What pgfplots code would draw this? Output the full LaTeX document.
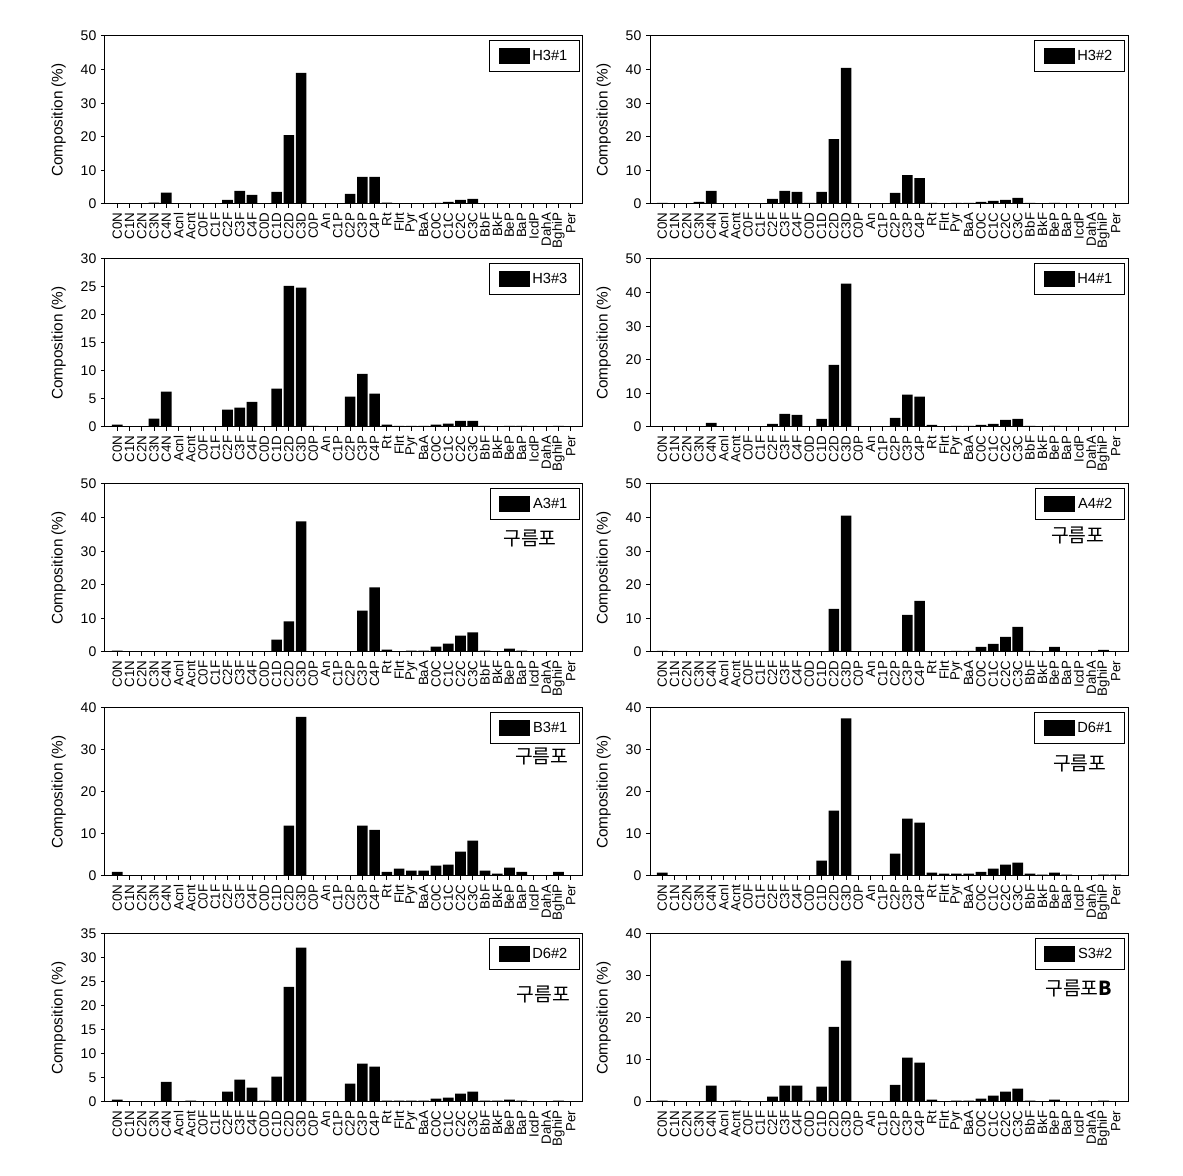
\documentclass[border=0pt]{standalone}
\usepackage{fontspec}
\setmainfont{Liberation Sans}
\newfontfamily\kr{Noto Sans CJK KR}
\usepackage{pgfplots}
\usepackage{pgfplotstable}
\pgfplotsset{compat=1.18}

\pgfplotstableread{
idx H31 H32 H33 H41 A31 A42 B31 D61 D62 S32
0 0 0.3 0.4 0 0.4 0.3 1.0 0.8 0.5 0.3
1 0 0 0 0 0 0 0 0 0 0
2 0 0 0 0 0 0 0 0 0 0
3 0.4 0.6 1.5 0 0 0 0 0 0 0
4 3.4 3.9 6.3 1.2 0 0 0 0 4.2 3.9
5 0 0 0 0 0 0 0 0 0 0
6 0 0 0 0 0 0 0 0 0.3 0.3
7 0 0 0 0 0 0 0 0 0 0
8 0 0 0 0 0 0 0 0 0 0
9 1.2 1.5 3.1 0.9 0 0 0 0 2.15 1.3
10 3.9 3.9 3.45 3.9 0 0 0 0 4.65 3.9
11 2.7 3.6 4.5 3.6 0 0 0 0 3.0 3.9
12 0 0.3 0 0 0 0 0 0 0.3 0.3
13 3.6 3.6 6.85 2.4 3.7 0 0 3.65 5.3 3.65
14 20.5 19.3 25.2 18.5 9.1 12.85 12.0 15.55 24.0 17.9
15 39.0 40.5 24.9 42.7 38.9 40.6 37.9 37.5 32.15 33.65
16 0 0 0.2 0 0 0 0 0 0 0
17 0 0 0 0 0 0 0 0 0 0
18 0 0 0 0 0 0 0 0 0 0
19 3.0 3.3 5.4 2.7 0 0 0 5.3 3.8 4.1
20 8.1 8.6 9.5 9.6 12.3 11.05 12.0 13.65 8.0 10.55
21 8.1 7.7 5.95 9.0 19.2 15.2 11.0 12.7 7.35 9.35
22 0.4 0.3 0.4 0.6 0.7 0 1.0 0.8 0.3 0.55
23 0 0 0.2 0 0 0 1.75 0.55 0.3 0
24 0 0.3 0.2 0.3 0.4 0.3 1.3 0.55 0.3 0.3
25 0 0.3 0.2 0.3 0.4 0.3 1.3 0.55 0.3 0.3
26 0.3 0.6 0.4 0.6 1.6 1.5 2.45 1.0 0.7 0.8
27 0.6 0.9 0.6 0.9 2.5 2.4 2.7 1.75 0.9 1.5
28 1.2 1.2 1.1 2.1 4.9 4.5 5.8 2.7 1.75 2.45
29 1.5 1.8 1.1 2.4 5.8 7.5 8.4 3.2 2.15 3.2
30 0 0.3 0.2 0.3 0.4 0.3 1.3 0.55 0.3 0.3
31 0 0 0 0 0 0 0.55 0.3 0.3 0
32 0 0.3 0.2 0.3 1.0 1.5 2.0 0.8 0.5 0.55
33 0 0 0.2 0 0.4 0 1.0 0.3 0.3 0
34 0 0 0 0 0 0 0 0 0 0
35 0 0 0 0 0 0 0 0 0 0
36 0 0 0.2 0 0 0.6 1.0 0.3 0.3 0.3
37 0 0 0 0 0 0 0 0.3 0 0
}\data

\tikzset{kor/.style={font=\kr\fontsize{14.5}{16}\selectfont}}

\pgfplotsset{
  panel/.style={
    width=358.5pt, height=126pt, scale only axis,
    anchor=south west,
    xmin=-1, xmax=38, ymin=0,
    xtick={0,...,37},
    xticklabels={C0N,C1N,C2N,C3N,C4N,Acnl,Acnt,C0F,C1F,C2F,C3F,C4F,C0D,C1D,C2D,C3D,C0P,An,C1P,C2P,C3P,C4P,Rt,Flrt,Pyr,BaA,C0C,C1C,C2C,C3C,BbF,BkF,BeP,BaP,IcdP,DahA,BghiP,Per},
    x tick label style={rotate=90, anchor=east, font=\fontsize{10}{11}\selectfont},
    y tick label style={font=\fontsize{10.5}{11}\selectfont},
    tick align=outside, xtick pos=left, ytick pos=left,
    major tick length=3pt,
    tick style={black, line width=0.75pt},
    axis line style={line width=0.75pt},
    ylabel={Composition (\%)},
    every axis y label/.style={at={(axis description cs:-0.097,0.5)}, rotate=90, anchor=center, font=\fontsize{11.5}{12}\selectfont},
    /pgf/number format/assume math mode=true,
    ybar, bar width=0.87,
    legend style={at={(1,1)}, anchor=north east, xshift=-2.25pt, yshift=-3pt, draw=black, line width=0.9pt, inner xsep=7pt, inner ysep=5pt, font=\fontsize{11}{12}\selectfont, /tikz/every even column/.append style={column sep=0pt}},
  },
  blk/.style={fill=black, draw=none, legend image code/.code={\fill[black] (0pt,-5.7pt) rectangle (23.25pt,5.7pt);}},
}

\begin{document}
\begin{tikzpicture}
\useasboundingbox (0,0) rectangle (887.25pt,882pt);
% Row 1
\begin{axis}[panel, at={(78.75pt,729pt)}, ymax=50, ytick={0,10,...,50}]
\addplot[blk] table[x=idx,y=H31]{\data};
\addlegendentry{H3\#1}
\end{axis}
\begin{axis}[panel, at={(487.5pt,729pt)}, ymax=50, ytick={0,10,...,50}]
\addplot[blk] table[x=idx,y=H32]{\data};
\addlegendentry{H3\#2}
\end{axis}
% Row 2
\begin{axis}[panel, at={(78.75pt,561.75pt)}, ymax=30, ytick={0,5,...,30}]
\addplot[blk] table[x=idx,y=H33]{\data};
\addlegendentry{H3\#3}
\end{axis}
\begin{axis}[panel, at={(487.5pt,561.75pt)}, ymax=50, ytick={0,10,...,50}]
\addplot[blk] table[x=idx,y=H41]{\data};
\addlegendentry{H4\#1}
\end{axis}
% Row 3
\begin{axis}[panel, at={(78.75pt,393pt)}, ymax=50, ytick={0,10,...,50}]
\addplot[blk] table[x=idx,y=A31]{\data};
\addlegendentry{A3\#1}
\node[kor] at (rel axis cs:0.889,0.676) {구름포};
\end{axis}
\begin{axis}[panel, at={(487.5pt,393pt)}, ymax=50, ytick={0,10,...,50}]
\addplot[blk] table[x=idx,y=A42]{\data};
\addlegendentry{A4\#2}
\node[kor] at (rel axis cs:0.895,0.696) {구름포};
\end{axis}
% Row 4
\begin{axis}[panel, at={(78.75pt,225pt)}, ymax=40, ytick={0,10,...,40}]
\addplot[blk] table[x=idx,y=B31]{\data};
\addlegendentry{B3\#1}
\node[kor] at (rel axis cs:0.914,0.711) {구름포};
\end{axis}
\begin{axis}[panel, at={(487.5pt,225pt)}, ymax=40, ytick={0,10,...,40}]
\addplot[blk] table[x=idx,y=D61]{\data};
\addlegendentry{D6\#1}
\node[kor] at (rel axis cs:0.899,0.667) {구름포};
\end{axis}
% Row 5
\begin{axis}[panel, at={(78.75pt,55.5pt)}, ymax=35, ytick={0,5,...,35}]
\addplot[blk] table[x=idx,y=D62]{\data};
\addlegendentry{D6\#2}
\node[kor] at (rel axis cs:0.917,0.637) {구름포};
\end{axis}
\begin{axis}[panel, at={(487.5pt,55.5pt)}, ymax=40, ytick={0,10,...,40}]
\addplot[blk] table[x=idx,y=S32]{\data};
\addlegendentry{S3\#2}
\node[kor] at (rel axis cs:0.897,0.673) {구름포\textbf{B}};
\end{axis}
\end{tikzpicture}
\end{document}
